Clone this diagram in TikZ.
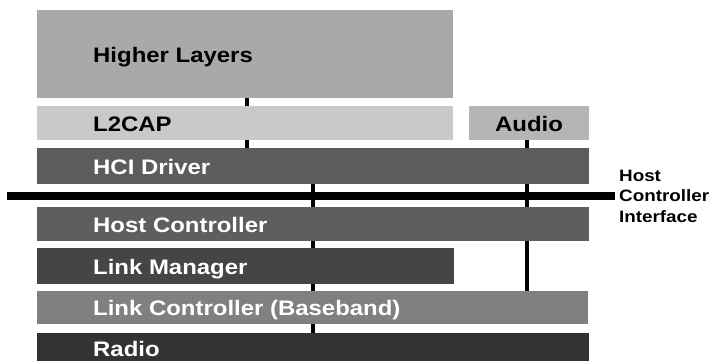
\documentclass[tikz,border=0pt]{standalone}
\usepackage{fontspec}
\setmainfont{Liberation Sans}[FakeStretch=1.14]
\usetikzlibrary{backgrounds}
\definecolor{cHL}{HTML}{A9A9A9}
\definecolor{cLT}{HTML}{C9C9C9}
\definecolor{cAU}{HTML}{B5B5B5}
\definecolor{cHCI}{HTML}{5C5C5C}
\definecolor{cHC}{HTML}{5E5E5E}
\definecolor{cLM}{HTML}{454545}
\definecolor{cLC}{HTML}{808080}
\definecolor{cRA}{HTML}{333333}
\begin{document}
\begin{tikzpicture}[x=1pt,y=-1pt,
  layerbox/.style={draw=none, rectangle, inner sep=0pt, outer sep=0pt, anchor=north west},
  lab/.style={anchor=base west, inner sep=0pt, font=\fontsize{21}{25}\selectfont\bfseries},
  sidelab/.style={anchor=base west, inner sep=0pt, align=left, font=\fontsize{16.5}{20.5}\selectfont\bfseries},
  conn/.style={line width=3.2pt, draw=black}]
\useasboundingbox (0,0) rectangle (710,360);
\node[layerbox, fill=cHL, minimum width=416pt, minimum height=88pt] (hl) at (37,10) {};
\node[layerbox, fill=cLT, minimum width=416pt, minimum height=34pt] (l2) at (37,106) {};
\node[layerbox, fill=cAU, minimum width=120pt, minimum height=34pt] (au) at (469,106) {};
\node[layerbox, fill=cHCI, minimum width=552pt, minimum height=36pt] (hci) at (37,148) {};
\node[layerbox, fill=black, minimum width=608pt, minimum height=8pt] (bar) at (7,192) {};
\node[layerbox, fill=cHC, minimum width=552pt, minimum height=34pt] (hc) at (37,207) {};
\node[layerbox, fill=cLM, minimum width=417pt, minimum height=36pt] (lm) at (37,248) {};
\node[layerbox, fill=cLC, minimum width=551pt, minimum height=33pt] (lc) at (37,291) {};
\node[layerbox, fill=cRA, minimum width=552pt, minimum height=40pt] (ra) at (37,333) {};

\node[lab, text=black] (hlt) at (93,62) {Higher Layers};
\node[lab, text=black] (l2t) at (93,131) {L2CAP};
\node[lab, text=black, anchor=base] (aut) at (529,131) {Audio};
\node[lab, text=white] (hcit) at (93,174) {HCI Driver};
\node[lab, text=white] (hct) at (93,232) {Host Controller};
\node[lab, text=white] (lmt) at (93,274.5) {Link Manager};
\node[lab, text=white] (lct) at (93,315) {Link Controller (Baseband)};
\node[lab, text=white] (rat) at (93,356) {Radio};
\node[sidelab] (hcil) at (619,222) {Host\\Controller\\Interface};

\begin{scope}[on background layer]
\draw[conn] (247,0 |- hl.south) -- (247,0 |- hci.north);
\draw[conn] (313,0 |- hci.south) -- (313,0 |- ra.north);
\draw[conn] (527,0 |- au.south) -- (527,0 |- lc.north);
\end{scope}
\end{tikzpicture}
\end{document}
